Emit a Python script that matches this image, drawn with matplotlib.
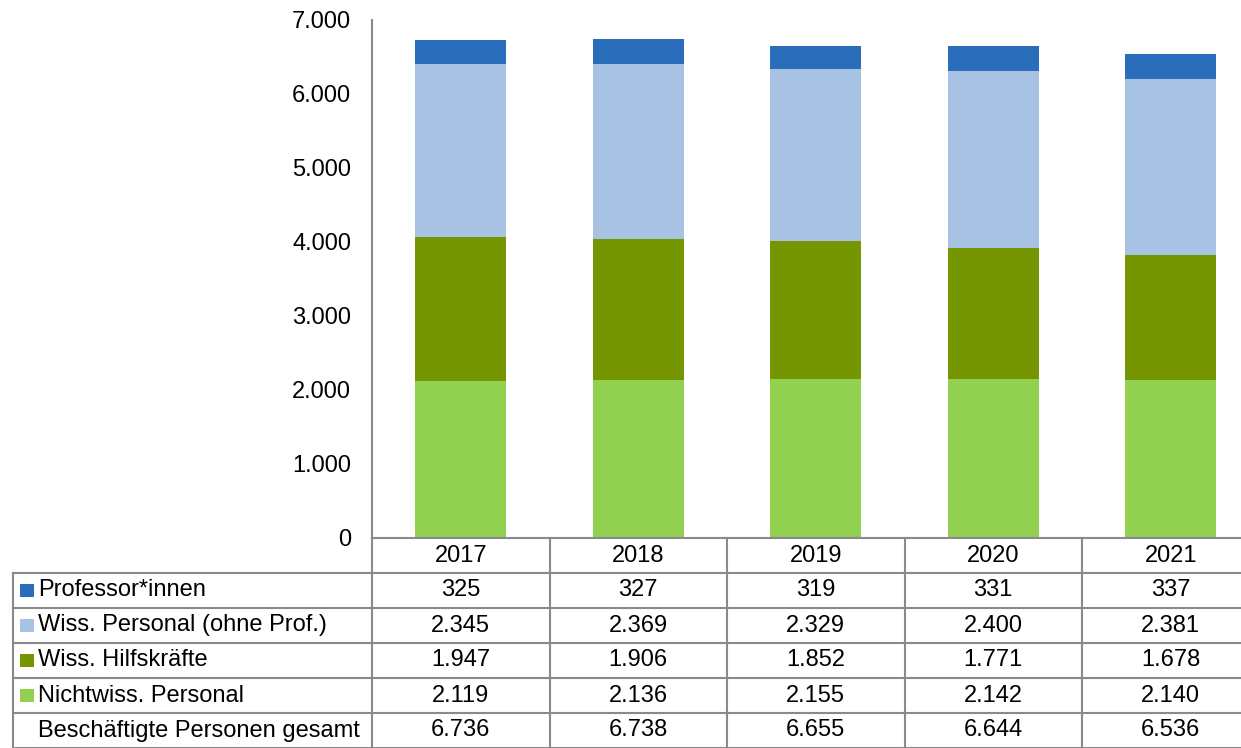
import matplotlib
matplotlib.use("Agg")
import matplotlib.pyplot as plt
from matplotlib.patches import Rectangle

plt.rcParams['font.family'] = ['Liberation Sans', 'DejaVu Sans']

# ================= Data =================
years = ['2017', '2018', '2019', '2020', '2021']
professoren = [325, 327, 319, 331, 337]
wiss_personal = [2345, 2369, 2329, 2400, 2381]
wiss_hilfskraefte = [1947, 1906, 1852, 1771, 1678]
nichtwiss_personal = [2119, 2136, 2155, 2142, 2140]
gesamt = [6736, 6738, 6655, 6644, 6536]

series_labels = ['Professor*innen', 'Wiss. Personal (ohne Prof.)',
                 'Wiss. Hilfskräfte', 'Nichtwiss. Personal']
series_values = [professoren, wiss_personal, wiss_hilfskraefte, nichtwiss_personal]
series_colors = ['#2A6EBB', '#A7C2E3', '#759600', '#92D050']
total_label = 'Beschäftigte Personen gesamt'

GRID = '#8a8a8a'
FS = 17


def de(v):
    return f"{v:,}".replace(",", ".")


# ================= Layout (pixels) =================
W, H = 1241, 748
ax_left, ax_right = 372, 1259.5
ax_top, ax_bottom = 20, 538
tab_left, tab_bottom = 13, 748

fig = plt.figure(figsize=(W / 100, H / 100), dpi=100)
ax = fig.add_axes([ax_left / W, (H - ax_bottom) / H,
                   (ax_right - ax_left) / W, (ax_bottom - ax_top) / H])

x = list(range(len(years)))
bottom = [0] * len(years)
# stack from bottom: Nichtwiss., Hilfskräfte, Wiss. Personal, Professor*innen
for vals, col in zip(series_values[::-1], series_colors[::-1]):
    ax.bar(x, vals, width=0.51, bottom=bottom, color=col, edgecolor='none')
    bottom = [b + v for b, v in zip(bottom, vals)]

ax.set_xlim(-0.5, len(years) - 0.5)
ax.set_ylim(0, 7000)
ax.set_yticks(range(0, 7001, 1000))
ax.set_yticklabels([de(v) for v in range(0, 7001, 1000)], fontsize=FS)
ax.tick_params(axis='y', length=0, pad=15)
ax.set_xticks([])
for s in ['top', 'right', 'bottom']:
    ax.spines[s].set_visible(False)
ax.spines['left'].set_color(GRID)
ax.spines['left'].set_linewidth(1.5)

# ================= Data table =================
px_per_unit = (ax_right - ax_left) / len(years)
x_tab_left = -0.5 - (ax_left - tab_left) / px_per_unit
tax = fig.add_axes([tab_left / W, 0, (ax_right - tab_left) / W,
                    (tab_bottom - ax_bottom) / H])
nrows = 6
tax.set_xlim(x_tab_left, len(years) - 0.5)
tax.set_ylim(nrows, 0)
tax.axis('off')

lw = 1.5
# horizontal lines
tax.plot([-0.5, len(years) - 0.5], [0, 0], color=GRID, lw=lw, clip_on=False)
for r in range(1, nrows + 1):
    tax.plot([x_tab_left, len(years) - 0.5], [r, r], color=GRID, lw=lw, clip_on=False)
# vertical lines
for k in range(len(years) + 1):
    tax.plot([k - 0.5, k - 0.5], [0, nrows], color=GRID, lw=lw, clip_on=False)
tax.plot([x_tab_left, x_tab_left], [1, nrows], color=GRID, lw=lw, clip_on=False)

# header
for i, yr in enumerate(years):
    tax.text(i, 0.5, yr, ha='center', va='center', fontsize=FS)

# rows
sq_w = 14 / px_per_unit
row_vals = series_values + [gesamt]
row_labels = series_labels + [total_label]
row_colors = series_colors + [None]
for r, (lab, vals, col) in enumerate(zip(row_labels, row_vals, row_colors), start=1):
    yc = r + 0.5
    if col is not None:
        tax.add_patch(Rectangle((x_tab_left + 7 / px_per_unit, yc - 0.19), sq_w, 0.37,
                                color=col, lw=0))
    tax.text(x_tab_left + 25 / px_per_unit, yc, lab, ha='left', va='center', fontsize=FS)
    for i, v in enumerate(vals):
        tax.text(i, yc, de(v), ha='center', va='center', fontsize=FS)

fig.savefig('out.png', dpi=100)
